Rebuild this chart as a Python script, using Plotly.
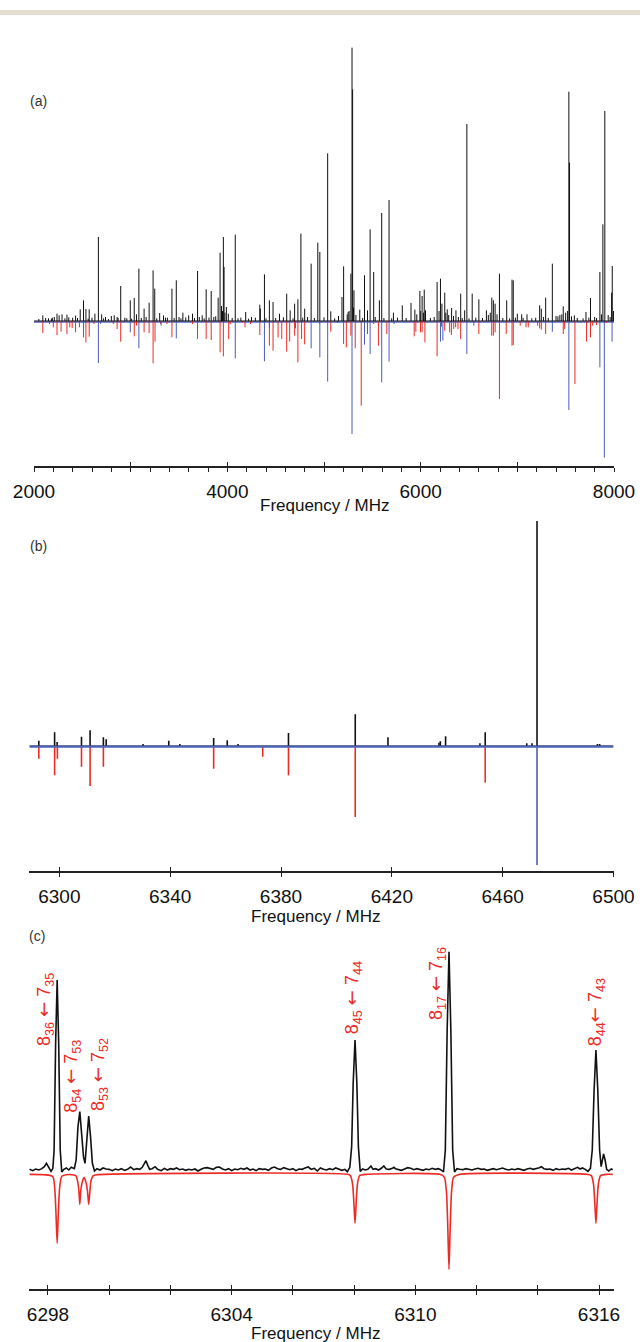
import plotly.graph_objects as go

# ---------------- Panel (a): 2000-8000 MHz overview (stick spectra) ----------------
a_black_freq = [2091, 2150, 2190, 2238, 2260, 2290, 2341, 2400, 2430, 2478, 2512, 2537, 2571, 2630,
                2666, 2700, 2740, 2800, 2830, 2860, 2897, 2940, 2996, 3037, 3060, 3085, 3139, 3191,
                3232, 3249, 3300, 3340, 3380, 3427, 3472, 3500, 3540, 3600, 3640, 3692, 3740, 3781,
                3833, 3880, 3905, 3925, 3940, 3959, 3966, 3990, 4010, 4082, 4140, 4190, 4250, 4336,
                4342, 4384, 4435, 4473, 4540, 4614, 4650, 4696, 4730, 4761, 4800, 4867, 4936, 4957,
                5038, 5070, 5150, 5186, 5203, 5250, 5278, 5290, 5296, 5310, 5370, 5419, 5450, 5477,
                5514, 5573, 5597, 5673, 5718, 5810, 5900, 5940, 5992, 6015, 6037, 6050, 6170, 6205,
                6220, 6249, 6275, 6320, 6365, 6414, 6455, 6478, 6533, 6602, 6680, 6736, 6752, 6770,
                6815, 6890, 6945, 6958, 7000, 7045, 7100, 7231, 7248, 7293, 7362, 7420, 7475, 7533,
                7540, 7590, 7710, 7757, 7800, 7854, 7885, 7905, 7975, 7982]
a_black_int = [17, 8, 10, 22, 17, 20, 19, 10, 16, 35, 62, 36, 35, 22,
               252, 20, 12, 15, 17, 12, 105, 10, 62, 69, 20, 157, 37, 55,
               152, 97, 24, 17, 10, 97, 122, 12, 25, 17, 22, 150, 17, 95,
               90, 14, 70, 205, 45, 252, 162, 42, 22, 259, 10, 27, 12, 49,
               37, 140, 62, 57, 22, 82, 32, 52, 65, 262, 37, 172, 235, 207,
               503, 29, 15, 72, 164, 27, 142, 820, 695, 92, 34, 137, 32, 275,
               147, 62, 324, 363, 25, 47, 54, 34, 90, 75, 94, 32, 117, 127,
               52, 85, 35, 39, 32, 82, 32, 591, 82, 65, 32, 70, 62, 52,
               142, 62, 124, 122, 22, 20, 20, 47, 37, 70, 172, 14, 44, 688,
               475, 17, 27, 69, 12, 147, 290, 630, 85, 165]
# small baseline "grass" of the experimental trace
a_grass_freq = [2050, 2120, 2180, 2210, 2320, 2360, 2450, 2560, 2600, 2720, 2770, 2870, 2960, 3010,
                3110, 3160, 3270, 3360, 3450, 3520, 3570, 3660, 3710, 3760, 3810, 3860, 3950, 3975,
                4050, 4110, 4220, 4290, 4400, 4500, 4580, 4680, 4780, 4830, 4900, 5000, 5110, 5240,
                5260, 5305, 5330, 5400, 5530, 5620, 5700, 5760, 5850, 5960, 6000, 6030, 6100, 6140,
                6190, 6260, 6290, 6340, 6390, 6430, 6500, 6570, 6640, 6700, 6720, 6790, 6850, 6920,
                6980, 7060, 7150, 7190, 7270, 7320, 7400, 7440, 7460, 7500, 7520, 7560, 7620, 7680,
                7740, 7820, 7870, 7940, 7960, 7995]
a_grass_int = [6, 9, 7, 12, 8, 11, 9, 7, 10, 8, 6, 9, 8, 7,
               9, 12, 8, 10, 9, 8, 11, 9, 12, 8, 10, 12, 30, 25,
               9, 8, 7, 10, 8, 9, 11, 8, 10, 12, 9, 11, 8, 20,
               30, 40, 18, 9, 12, 9, 8, 10, 9, 20, 30, 25, 9, 12,
               30, 25, 18, 15, 12, 9, 8, 10, 9, 18, 25, 20, 9, 8,
               10, 9, 8, 10, 12, 9, 15, 18, 20, 25, 30, 14, 9, 8,
               10, 9, 20, 18, 12, 30]
a_red_freq = [2091, 2160, 2200, 2238, 2280, 2341, 2370, 2395, 2430, 2512, 2537, 2571, 2620, 2820,
              2860, 2897, 3037, 3060, 3139, 3191, 3232, 3252, 3310, 3375, 3427, 3640, 3692, 3781,
              3833, 3925, 3959, 4014, 4030, 4155, 4183, 4240, 4336, 4435, 4473, 4525, 4563, 4614,
              4645, 4696, 4730, 4768, 4800, 4955, 5070, 5140, 5231, 5278, 5323, 5385, 5450, 5514,
              5563, 5650, 5933, 5950, 5998, 6015, 6044, 6170, 6215, 6249, 6300, 6318, 6342, 6362,
              6386, 6414, 6602, 6735, 6752, 6770, 6815, 6885, 6945, 6958, 7030, 7090, 7113, 7210,
              7231, 7248, 7293, 7475, 7490, 7596, 7716, 7757, 7780, 7820, 7920]
a_red_int = [36, 9, 19, 42, 32, 39, 19, 21, 34, 49, 64, 47, 9, 9,
             24, 62, 46, 14, 34, 36, 127, 62, 9, 9, 49, 9, 54, 54,
             57, 94, 106, 54, 9, 4, 19, 9, 42, 74, 89, 49, 54, 92,
             62, 44, 124, 54, 70, 9, 32, 6, 79, 44, 82, 254, 39, 9,
             74, 39, 46, 32, 34, 34, 64, 106, 17, 29, 34, 42, 24, 19,
             24, 54, 39, 44, 44, 34, 234, 39, 74, 72, 14, 19, 19, 14,
             22, 26, 39, 39, 24, 189, 62, 49, 14, 12, 6]
a_blue_freq = [2470, 2666, 2690, 2996, 3085, 3315, 3472, 4082, 4384, 4435, 4705, 4867, 4957, 5038,
               5203, 5290, 5419, 5477, 5597, 5673, 5725, 6205, 6230, 6478, 6550, 7362, 7533, 7854,
               7900, 7980]
a_blue_int = [19, 126, 9, 34, 82, 14, 52, 112, 121, 22, 22, 82, 109, 182,
              69, 339, 71, 99, 184, 122, 9, 62, 59, 99, 14, 32, 267, 139,
              410, 62]
a_major_ticks = [2000, 3000, 4000, 5000, 6000, 7000, 8000]
a_label_ticks = [2000, 4000, 6000, 8000]

# ---------------- Panel (b): 6290-6500 MHz ----------------
b_black_freq = [6292.6, 6298.3, 6299.2, 6308.0, 6311.1, 6315.9, 6316.9, 6330.2, 6339.5, 6343.5,
                6355.7, 6360.6, 6364.5, 6382.7, 6406.8, 6418.6, 6437.0, 6437.5, 6439.4, 6451.8,
                6453.7, 6468.7, 6470.6, 6472.4, 6494.2, 6495.0]
b_black_int = [16, 41, 12, 28, 47, 26, 20, 6, 16, 6,
               24, 17, 6, 39, 95, 26, 10, 14, 29, 8,
               41, 8, 8, 675, 6, 6]
b_red_freq = [6292.6, 6298.3, 6299.3, 6308.0, 6311.1, 6315.9, 6355.7, 6373.4, 6382.7, 6406.8, 6453.7]
b_red_int = [38, 88, 38, 62, 120, 62, 68, 32, 88, 213, 110]
b_blue_freq = [6472.4]
b_blue_int = [357]
b_ticks = [6300, 6340, 6380, 6420, 6460, 6500]

# ---------------- Panel (c): 6297.4-6316.5 MHz, experimental vs simulated ----------------
c_exp_freq = [6297.40, 6297.50, 6297.60, 6297.70, 6297.80, 6297.88, 6297.95, 6298.02, 6298.10, 6298.16,
              6298.20, 6298.25, 6298.30, 6298.35, 6298.40, 6298.45, 6298.52, 6298.60, 6298.68, 6298.76,
              6298.86, 6298.92, 6298.98, 6299.04, 6299.10, 6299.16, 6299.21, 6299.27, 6299.33, 6299.39,
              6299.45, 6299.52, 6299.60, 6299.70, 6299.80, 6299.90, 6300.00, 6300.10, 6300.20, 6300.30,
              6300.40, 6300.50, 6300.60, 6300.70, 6300.80, 6300.90, 6301.00, 6301.08, 6301.14, 6301.20,
              6301.26, 6301.32, 6301.40, 6301.50, 6301.58, 6301.70, 6301.80, 6301.90, 6302.00, 6302.10,
              6302.20, 6302.30, 6302.40, 6302.50, 6302.60, 6302.70, 6302.80, 6302.90, 6303.00, 6303.10,
              6303.20, 6303.30, 6303.40, 6303.50, 6303.60, 6303.70, 6303.80, 6303.90, 6304.00, 6304.10,
              6304.20, 6304.30, 6304.40, 6304.50, 6304.60, 6304.70, 6304.80, 6304.90, 6305.00, 6305.10,
              6305.20, 6305.30, 6305.40, 6305.50, 6305.60, 6305.70, 6305.80, 6305.90, 6306.00, 6306.10,
              6306.20, 6306.30, 6306.40, 6306.50, 6306.60, 6306.70, 6306.80, 6306.90, 6307.00, 6307.10,
              6307.20, 6307.30, 6307.40, 6307.50, 6307.60, 6307.70, 6307.78, 6307.86, 6307.92, 6307.97,
              6308.03, 6308.09, 6308.14, 6308.20, 6308.28, 6308.36, 6308.45, 6308.55, 6308.62, 6308.70,
              6308.80, 6308.90, 6308.97, 6309.05, 6309.15, 6309.25, 6309.30, 6309.35, 6309.45, 6309.55,
              6309.65, 6309.75, 6309.85, 6309.95, 6310.05, 6310.15, 6310.25, 6310.35, 6310.45, 6310.55,
              6310.65, 6310.75, 6310.83, 6310.92, 6310.98, 6311.04, 6311.10, 6311.16, 6311.22, 6311.28,
              6311.36, 6311.45, 6311.55, 6311.65, 6311.75, 6311.85, 6311.95, 6312.05, 6312.15, 6312.25,
              6312.35, 6312.45, 6312.55, 6312.65, 6312.75, 6312.85, 6312.95, 6313.05, 6313.15, 6313.25,
              6313.35, 6313.45, 6313.55, 6313.65, 6313.75, 6313.85, 6313.95, 6314.05, 6314.12, 6314.20,
              6314.30, 6314.40, 6314.50, 6314.60, 6314.70, 6314.80, 6314.90, 6315.00, 6315.10, 6315.20,
              6315.30, 6315.38, 6315.46, 6315.55, 6315.64, 6315.72, 6315.78, 6315.84, 6315.90, 6315.96,
              6316.02, 6316.07, 6316.11, 6316.15, 6316.20, 6316.25, 6316.32, 6316.40, 6316.45]
c_exp_int = [2, -2, 3, 0, 4, 10, 20, 8, -4, 5,
             60, 380, 570, 380, 60, -6, 2, 6, 0, 8,
             4, 30, 130, 175, 110, 40, 20, 100, 162, 100,
             20, -3, 4, 0, 6, 3, 2, -2, 3, 0,
             4, -1, 2, 9, 1, 4, 2, 8, 18, 28,
             14, 2, 4, 10, 2, -2, 5, 0, 4, 2,
             6, 1, 3, -1, 2, 0, 3, -3, 2, 6,
             7, 4, 2, 8, 9, 3, 0, 4, -2, 3,
             1, 5, 2, 6, 0, 3, -2, 4, 2, 3,
             -1, 6, 9, 4, 2, 7, 3, 1, 4, -2,
             3, 2, 6, 9, 2, 5, -3, 6, 2, 0,
             4, 1, 6, 3, -1, 2, -5, 8, 70, 260,
             390, 260, 70, -4, 3, 0, 2, 12, 2, 4,
             0, 6, 12, 3, 2, 5, 8, 4, 2, -1,
             3, 7, 5, 1, 4, 2, -1, 3, 1, 5,
             2, 4, 1, -6, 60, 420, 655, 420, 60, -6,
             4, 2, 1, 4, 2, 0, 3, 5, 2, 3,
             -1, 2, 4, 1, 3, 6, 2, 0, 3, 1,
             4, 2, -1, 3, 5, 2, 4, 7, 10, 4,
             2, 3, -1, 4, 1, 3, 2, 5, 0, 3,
             8, 3, 6, 2, -4, 5, 60, 240, 360, 240,
             60, 10, 35, 48, 30, 2, -3, 3, 1]
c_sim_freq = [6297.40, 6298.15, 6298.22, 6298.26, 6298.30, 6298.34, 6298.38, 6298.45, 6298.60, 6298.85,
              6298.92, 6298.98, 6299.01, 6299.04, 6299.07, 6299.11, 6299.18, 6299.25, 6299.29, 6299.33,
              6299.37, 6299.41, 6299.48, 6299.60, 6307.80, 6307.88, 6307.95, 6307.99, 6308.03, 6308.07,
              6308.11, 6308.18, 6308.40, 6310.80, 6310.95, 6311.02, 6311.06, 6311.10, 6311.14, 6311.18,
              6311.25, 6311.45, 6315.60, 6315.75, 6315.82, 6315.86, 6315.90, 6315.94, 6315.98, 6316.05,
              6316.25, 6316.45]
c_sim_int = [-13, -19, -54, -127, -220, -127, -54, -19, -14, -15,
             -18, -40, -63, -103, -63, -40, -22, -40, -63, -103,
             -63, -31, -17, -14, -13, -17, -42, -94, -160, -94,
             -42, -17, -13, -13, -22, -70, -170, -298, -170, -70,
             -22, -13, -13, -17, -42, -94, -160, -94, -42, -17,
             -13, -13]
c_major_ticks = [6298, 6300, 6302, 6304, 6306, 6308, 6310, 6312, 6314, 6316]
c_label_ticks = [6298, 6304, 6310, 6316]
ARW = "<span style=\"font-family:'DejaVu Sans'\">\u2190</span>"
c_labels = ["8<sub>36</sub> " + ARW + " 7<sub>35</sub>", "8<sub>54</sub> " + ARW + " 7<sub>53</sub>",
            "8<sub>53</sub> " + ARW + " 7<sub>52</sub>", "8<sub>45</sub> " + ARW + " 7<sub>44</sub>",
            "8<sub>17</sub> " + ARW + " 7<sub>16</sub>", "8<sub>44</sub>" + ARW + " 7<sub>43</sub>"]
c_label_freq = [6297.90, 6298.78, 6299.67, 6307.97, 6310.71, 6315.91]
c_label_ypx = [1009, 1076, 1075, 998, 984, 1012]

# ---------------- figure ----------------
W, H = 640, 1342
BLACK = "#111111"
RED = "#ec2b25"
BLUE = "#4c5db8"
FONT = "Liberation Sans, Arial, Helvetica, sans-serif"


def sticks(freqs, ints, sign=1):
    xs, ys = [], []
    for f, h in zip(freqs, ints):
        xs += [f, f, None]
        ys += [0, sign * h, None]
    return xs, ys


def py(p):
    return 1 - p / H


fig = go.Figure()

# panel a
fig.add_trace(go.Scatter(x=[2000, 8000], y=[-3, -3], mode="lines",
                         line=dict(color="#7f8dd6", width=2), xaxis="x", yaxis="y"))
for fr, it, col, sg, wd in [(a_red_freq, a_red_int, RED, -1, 1),
                            (a_blue_freq, a_blue_int, BLUE, -1, 1),
                            (a_grass_freq, a_grass_int, BLACK, 1, 1),
                            (a_black_freq, a_black_int, BLACK, 1, 1)]:
    xs, ys = sticks(fr, it, sg)
    fig.add_trace(go.Scatter(x=xs, y=ys, mode="lines", line=dict(color=col, width=wd),
                             xaxis="x", yaxis="y"))
fig.add_trace(go.Scatter(x=[2000, 8000], y=[0, 0], mode="lines",
                         line=dict(color=BLACK, width=1.2), xaxis="x", yaxis="y"))

# panel b
for fr, it, col, sg in [(b_red_freq, b_red_int, RED, -1),
                        (b_blue_freq, b_blue_int, BLUE, -1),
                        (b_black_freq, b_black_int, BLACK, 1)]:
    xs, ys = sticks(fr, it, sg)
    fig.add_trace(go.Scatter(x=xs, y=ys, mode="lines", line=dict(color=col, width=1.6),
                             xaxis="x2", yaxis="y2"))
fig.add_trace(go.Scatter(x=[6289.2, 6500], y=[0, 0], mode="lines",
                         line=dict(color=BLACK, width=1), xaxis="x2", yaxis="y2"))
fig.add_trace(go.Scatter(x=[6289.2, 6500], y=[-2, -2], mode="lines",
                         line=dict(color="#4a63b8", width=2.4), xaxis="x2", yaxis="y2"))

# panel c
fig.add_trace(go.Scatter(x=c_sim_freq, y=c_sim_int, mode="lines",
                         line=dict(color=RED, width=1.6, shape="spline", smoothing=0.6),
                         xaxis="x3", yaxis="y3"))
fig.add_trace(go.Scatter(x=c_exp_freq, y=c_exp_int, mode="lines",
                         line=dict(color=BLACK, width=1.6), xaxis="x3", yaxis="y3"))

dom_a = [34 / W, 614 / W]
dom_b = [29.4 / W, 613.5 / W]
dom_c = [29 / W, 614 / W]
rng_a = [2000, 8000]
rng_b = [6289.2, 6500]
rng_c = [6297.38, 6316.49]

TICKC = "#222222"
axis_common = dict(showline=True, linecolor=TICKC, linewidth=1.6, showgrid=False,
                   zeroline=False, ticks="outside", ticklen=4, tickwidth=1.4,
                   tickcolor=TICKC, tickfont=dict(family=FONT, size=19, color="#111111"),
                   ticklabelstandoff=3, automargin=False, tickmode="array")
over_common = dict(showline=False, showgrid=False, zeroline=False, ticks="inside",
                   ticklen=4, tickwidth=1.4, tickcolor=TICKC, showticklabels=False,
                   automargin=False, tickmode="array")
yhide = dict(visible=False, automargin=False, showgrid=False, zeroline=False)

fig.update_layout(
    width=W, height=H, margin=dict(l=0, r=0, t=0, b=0, pad=0), autosize=False,
    paper_bgcolor="white", plot_bgcolor="white", showlegend=False,
    xaxis=dict(domain=dom_a, range=rng_a, anchor="y", tickvals=a_label_ticks,
               minor=dict(tick0=2000, dtick=200, ticks="outside", ticklen=4, tickwidth=1.3,
                          tickcolor=TICKC, showgrid=False),
               **axis_common),
    yaxis=dict(domain=[py(466), py(40)], range=[-435, 843], **yhide),
    xaxis2=dict(domain=dom_b, range=rng_b, anchor="y2", tickvals=b_ticks, **axis_common),
    yaxis2=dict(domain=[py(871), py(515)], range=[-375, 693], **yhide),
    xaxis3=dict(domain=dom_c, range=rng_c, anchor="y3", tickvals=c_label_ticks,
                minor=dict(tick0=6298, dtick=2, ticks="outside", ticklen=4, tickwidth=1.4,
                           tickcolor=TICKC, showgrid=False),
                **axis_common),
    yaxis3=dict(domain=[py(1289), py(940)], range=[-357, 690], **yhide),
    xaxis4=dict(domain=dom_a, range=rng_a, anchor="y", overlaying="x",
                tickvals=a_major_ticks, **over_common),
    xaxis5=dict(domain=dom_b, range=rng_b, anchor="y2", overlaying="x2",
                tickvals=b_ticks, **over_common),
    xaxis6=dict(domain=dom_c, range=rng_c, anchor="y3", overlaying="x3",
                tickvals=c_major_ticks, **over_common),
)
# invisible traces so the overlay (tick-crossing) axes are rendered
for xa, ya, r in [("x4", "y", rng_a), ("x5", "y2", rng_b), ("x6", "y3", rng_c)]:
    fig.add_trace(go.Scatter(x=r, y=[0, 0], mode="lines", line=dict(width=0),
                             opacity=0, xaxis=xa, yaxis=ya, hoverinfo="skip"))

# top decorative band
fig.add_shape(type="rect", xref="paper", yref="paper", x0=0, x1=1, y0=py(15), y1=py(10),
              fillcolor="#e2ddcf", line=dict(width=0), layer="below")

annots = []
for txt, xp, yp in [("(a)", 38, 101), ("(b)", 38, 546), ("(c)", 37, 936)]:
    annots.append(dict(text=txt, x=xp / W, y=py(yp), xref="paper", yref="paper",
                       showarrow=False, xanchor="center", yanchor="middle",
                       font=dict(family=FONT, size=14, color="#333333")))
for xp, yp in [(324, 505), (315, 916), (315, 1333)]:
    annots.append(dict(text="Frequency / MHz", x=xp / W, y=py(yp), xref="paper", yref="paper",
                       showarrow=False, xanchor="center", yanchor="middle",
                       font=dict(family=FONT, size=17, color="#111111")))
for txt, fx, yp in zip(c_labels, c_label_freq, c_label_ypx):
    annots.append(dict(text=txt, x=fx, y=py(yp), xref="x3", yref="paper", showarrow=False,
                       textangle=-90, xanchor="center", yanchor="middle",
                       font=dict(family=FONT, size=18, color=RED)))
fig.update_layout(annotations=annots)

fig.write_html("out.html", config={"displayModeBar": False},
               post_script="document.body.style.margin='0px';")
